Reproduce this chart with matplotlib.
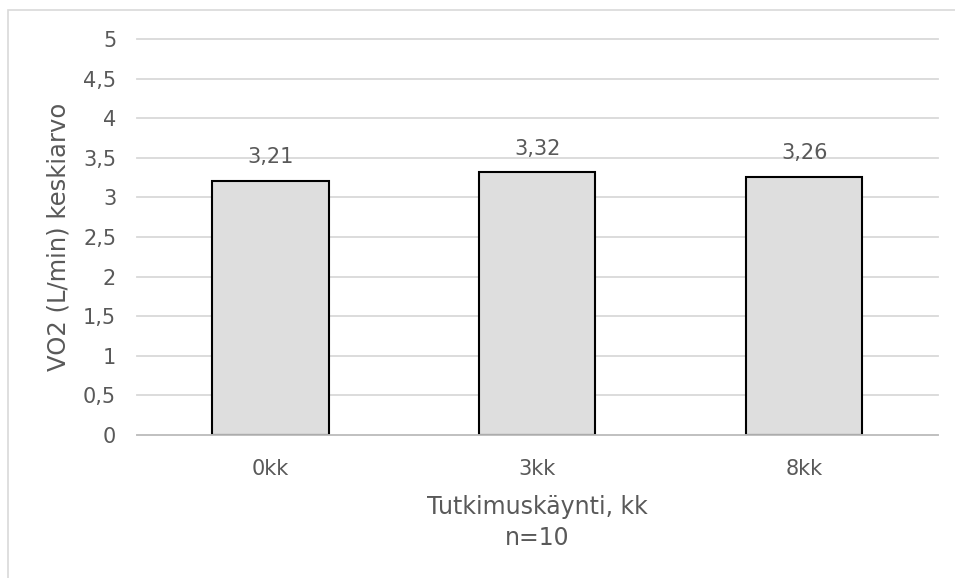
import matplotlib.pyplot as plt
from matplotlib.patches import Rectangle
from matplotlib.ticker import FuncFormatter, MultipleLocator

kaynnit = ['0kk', '3kk', '8kk']
vo2 = [3.21, 3.32, 3.26]

harmaa = '#595959'

fig = plt.figure(figsize=(9.55, 5.78), dpi=100)
ax = fig.add_axes([0.1435, 0.2474, 0.8385, 0.6851])

# kuvan reunaviiva (Excel-tyylinen kehys)
fig.patches.append(Rectangle((8 / 955, -0.1), 1.2, 1.1 - 10 / 578,
                             transform=fig.transFigure, fill=False,
                             edgecolor='#d9d9d9', linewidth=1.2))

x = range(len(kaynnit))
ax.bar(x, vo2, width=0.435, color='#dedede', edgecolor='black',
       linewidth=1.5, zorder=3)

for xi, v in zip(x, vo2):
    ax.text(xi, v + 0.17, f'{v:.2f}'.replace('.', ','), ha='center',
            va='bottom', fontsize=15, color=harmaa)

ax.set_xlim(-0.5, 2.5)
ax.set_ylim(0, 5)
ax.yaxis.set_major_locator(MultipleLocator(0.5))
ax.yaxis.set_major_formatter(FuncFormatter(lambda v, p: f'{v:g}'.replace('.', ',')))
ax.set_xticks(list(x))
ax.set_xticklabels(kaynnit)

ax.grid(axis='y', color='#d9d9d9', linewidth=1.3, zorder=0)
for l in ax.get_ygridlines():
    l.set_clip_on(False)
for s in ['top', 'right', 'left']:
    ax.spines[s].set_visible(False)
ax.spines['bottom'].set_color('#bfbfbf')
ax.spines['bottom'].set_linewidth(1.3)
ax.spines['bottom'].set_zorder(4)
ax.tick_params(length=0, colors=harmaa, labelsize=15)
ax.tick_params(axis='y', pad=15)
ax.tick_params(axis='x', pad=17)

ax.set_ylabel('VO2 (L/min) keskiarvo', fontsize=17.5, color=harmaa, labelpad=9)
ax.set_xlabel('Tutkimuskäynti, kk\nn=10', fontsize=17, color=harmaa,
              labelpad=12, linespacing=1.35)

fig.savefig('out.png', dpi=100)
